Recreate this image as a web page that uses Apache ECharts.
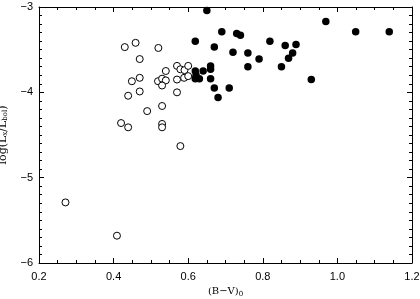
<!DOCTYPE html>
<html lang="en">
<head>
    <meta charset="UTF-8">
    <title>log(Lx/Lbol) vs (B-V)0</title>
</head>
<body style="margin:0">
<div id="main" style="width: 420px;height:299px;"></div>
<script type="text/javascript" src="https://cdn.jsdelivr.net/npm/echarts@6/dist/echarts.min.js"></script>
<script type="text/javascript">
    // open circles: [B-V, log(Lx/Lbol)]
    var openBV = [0.430, 0.459, 0.520, 0.470, 0.540, 0.570, 0.579, 0.590, 0.600, 0.589,
        0.600, 0.570, 0.470, 0.449, 0.519, 0.530, 0.540, 0.530, 0.470, 0.439,
        0.570, 0.490, 0.530, 0.420, 0.439, 0.530, 0.530, 0.579, 0.271, 0.409];
    var openL = [-3.47, -3.42, -3.48, -3.61, -3.75, -3.69, -3.73, -3.74, -3.69, -3.83,
        -3.81, -3.85, -3.83, -3.87, -3.87, -3.84, -3.86, -3.92, -3.99, -4.04,
        -4.00, -4.22, -4.16, -4.36, -4.41, -4.37, -4.41, -4.63, -5.29, -5.68];
    // filled circles
    var filledBV = [0.650, 0.690, 0.730, 0.740, 0.619, 0.670, 0.720, 0.760, 0.790, 0.819,
        0.860, 0.889, 0.880, 0.869, 0.850, 0.760, 0.660, 0.660, 0.640, 0.619,
        0.619, 0.630, 0.660, 0.670, 0.710, 0.680, 0.930, 0.969, 1.049, 1.139, 0.621];
    var filledL = [-3.04, -3.29, -3.31, -3.33, -3.40, -3.47, -3.53, -3.54, -3.61, -3.40,
        -3.45, -3.44, -3.54, -3.60, -3.70, -3.70, -3.69, -3.73, -3.75, -3.75,
        -3.84, -3.84, -3.84, -3.95, -3.95, -4.06, -3.85, -3.17, -3.29, -3.29, -3.80];

    function pairs(xs, ys) {
        return xs.map(function (x, i) { return [x, ys[i]]; });
    }
    function minus(v) {
        return String(v).replace('-', '\u2212');
    }

    var lbl = {color: '#000', fontFamily: 'Liberation Sans', fontSize: 11};
    var line = {show: true, lineStyle: {color: '#000', width: 1}};
    var tick = {show: true, inside: true, length: 5, lineStyle: {color: '#000'}};
    var minor = {show: true, length: 3, lineStyle: {color: '#000'}};
    var sub = {s: {fontSize: 7, fontFamily: 'DejaVu Serif', verticalAlign: 'bottom', padding: [5, 0, 0, 0]}};

    var xBase = {type: 'value', min: 0.2, max: 1.2, interval: 0.2, axisLine: line,
        axisTick: tick, minorTick: Object.assign({splitNumber: 4}, minor), splitLine: {show: false}};
    var yBase = {type: 'value', min: -6, max: -3, interval: 1, axisLine: line,
        axisTick: tick, minorTick: Object.assign({splitNumber: 10}, minor), splitLine: {show: false}};

    var myChart = echarts.init(document.getElementById('main'));
    var option = {
        backgroundColor: '#fff',
        animation: false,
        grid: {left: 39, right: 8, top: 7, bottom: 36, outerBoundsMode: 'none', containLabel: false},
        xAxis: [
            Object.assign({}, xBase, {
                position: 'bottom',
                axisLabel: Object.assign({margin: 8, formatter: function (v) { return v.toFixed(1); }}, lbl),
                name: '(B\u2212V){s|0}',
                nameLocation: 'middle',
                nameGap: 22,
                nameTextStyle: {color: '#000', fontFamily: 'DejaVu Serif', fontSize: 10, rich: sub}
            }),
            Object.assign({}, xBase, {position: 'top', axisLabel: {show: false}})
        ],
        yAxis: [
            Object.assign({}, yBase, {
                position: 'left',
                axisLabel: Object.assign({margin: 6, formatter: minus}, lbl),
                name: 'log(L{s|x}/L{s|bol})',
                nameLocation: 'middle',
                nameGap: 30,
                nameTextStyle: {color: '#000', fontFamily: 'DejaVu Serif', fontSize: 11, rich: sub}
            }),
            Object.assign({}, yBase, {position: 'right', axisLabel: {show: false}})
        ],
        series: [{
            name: 'open',
            type: 'scatter',
            symbol: 'circle',
            symbolSize: 7,
            itemStyle: {color: '#fff', borderColor: '#000', borderWidth: 1, opacity: 1},
            data: pairs(openBV, openL)
        }, {
            name: 'filled',
            type: 'scatter',
            symbol: 'circle',
            symbolSize: 7.5,
            itemStyle: {color: '#000', opacity: 1},
            data: pairs(filledBV, filledL)
        }]
    };
    myChart.setOption(option);
</script>
</body>
</html>
